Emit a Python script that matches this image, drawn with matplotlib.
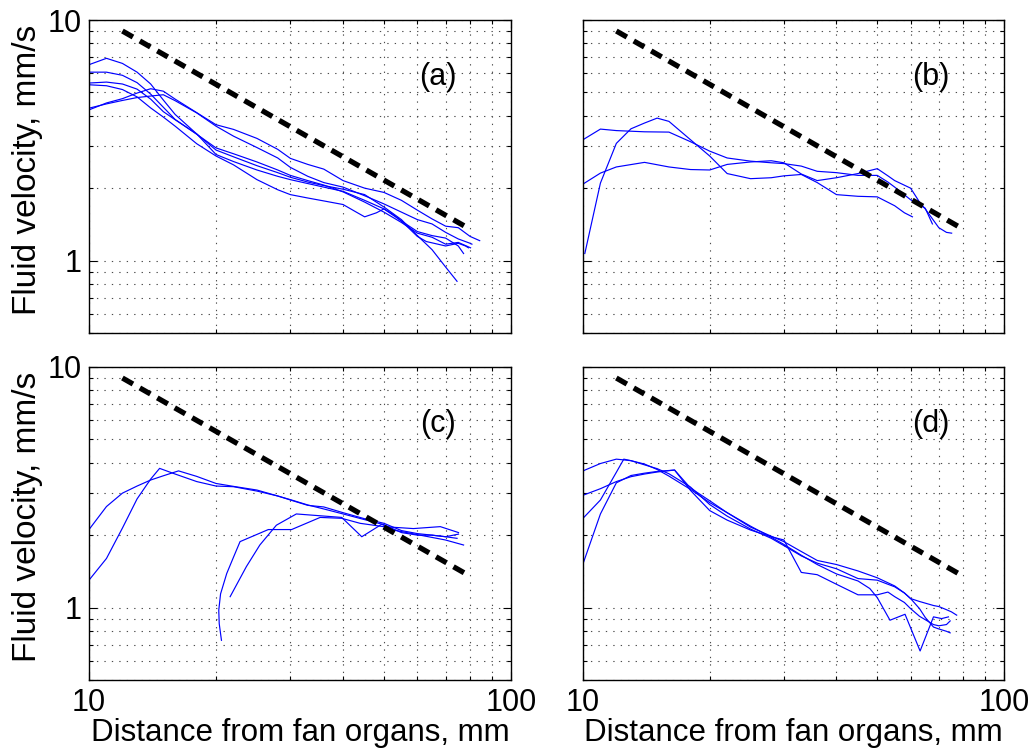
import matplotlib
matplotlib.use("Agg")
import matplotlib.pyplot as plt
from matplotlib.ticker import FixedLocator, NullFormatter, FixedFormatter, LogLocator

plt.rcParams['font.family'] = ['Liberation Sans', 'DejaVu Sans']

# ---------------- data ----------------
# reference slope line  y = k / x
ref_x = [12, 80]
ref_k = 108.0

# panel (a)
a1_x = [10, 11, 12, 13, 14, 15, 16, 18, 20, 22, 25, 28, 30, 33, 36, 40, 45, 50, 55, 60, 65, 70, 74.5]
a1_y = [6.52, 6.93, 6.6, 6.07, 5.42, 4.65, 4.05, 3.36, 2.88, 2.70, 2.48, 2.32, 2.22, 2.12, 2.05, 1.98, 1.88, 1.67, 1.48, 1.27, 1.11, 0.94, 0.82]
a2_x = [10, 11, 12, 13, 14, 15, 16, 18, 20, 22, 25, 28, 30, 33, 36, 40, 45, 50, 55, 60, 65, 70, 75, 80.2]
a2_y = [6.07, 6.07, 5.89, 5.49, 4.92, 4.34, 3.86, 3.35, 2.94, 2.78, 2.57, 2.38, 2.26, 2.15, 2.06, 1.93, 1.75, 1.59, 1.44, 1.30, 1.25, 1.17, 1.19, 1.13]
a3_x = [10, 11, 12, 13, 14, 15, 16, 18, 20, 22, 25, 28, 30, 33, 36, 40, 45, 50, 55, 60, 65, 70, 75, 77.2]
a3_y = [5.47, 5.52, 5.42, 5.16, 4.69, 4.16, 3.85, 3.36, 2.76, 2.58, 2.38, 2.24, 2.17, 2.09, 2.02, 1.94, 1.78, 1.64, 1.46, 1.32, 1.27, 1.24, 1.15, 1.07]
a4_x = [10, 11, 12, 13, 14, 15, 16, 18, 20, 22, 25, 28, 30, 33, 36, 40, 45, 50, 55, 60, 65, 70, 75, 80, 84.3]
a4_y = [4.23, 4.52, 4.71, 4.97, 5.18, 5.06, 4.69, 4.12, 3.67, 3.51, 3.22, 2.90, 2.66, 2.51, 2.40, 2.15, 2.00, 1.92, 1.78, 1.62, 1.49, 1.39, 1.37, 1.26, 1.21]
a5_x = [10, 11, 12, 13, 14, 15, 16, 18, 20, 22, 25, 28, 30, 33, 36, 40, 45, 50, 55, 60, 65, 70, 75, 80, 80.8]
a5_y = [4.30, 4.48, 4.63, 4.76, 4.83, 4.89, 4.62, 4.11, 3.62, 3.29, 2.95, 2.67, 2.44, 2.24, 2.11, 2.02, 1.86, 1.72, 1.59, 1.48, 1.42, 1.31, 1.23, 1.18, 1.17]
a6_x = [10, 11, 12, 13, 14, 15, 16, 18, 20, 22, 25, 28, 30, 33, 36, 40, 43, 45, 48, 50, 53, 55, 60, 63, 70, 75, 78, 79.3]
a6_y = [5.38, 5.33, 5.14, 4.79, 4.31, 3.95, 3.62, 3.06, 2.72, 2.50, 2.17, 1.97, 1.88, 1.82, 1.77, 1.71, 1.59, 1.52, 1.58, 1.64, 1.54, 1.46, 1.26, 1.20, 1.15, 1.18, 1.15, 1.13]

# panel (b)
b1_x = [10.1, 11, 12, 13, 14, 15, 16, 18, 20, 22, 25, 28, 30, 33, 36, 40, 45, 50, 55, 58, 60.6]
b1_y = [1.07, 2.10, 3.07, 3.53, 3.73, 3.91, 3.79, 3.18, 2.72, 2.30, 2.19, 2.21, 2.25, 2.28, 2.11, 1.88, 1.85, 1.84, 1.69, 1.58, 1.52]
b2_x = [10, 11, 12, 14, 16, 18, 20, 22, 25, 28, 30, 33, 36, 40, 45, 50, 53, 55, 60, 65, 67.6]
b2_y = [3.18, 3.52, 3.47, 3.43, 3.42, 3.12, 2.85, 2.67, 2.59, 2.55, 2.53, 2.47, 2.35, 2.32, 2.26, 2.26, 2.12, 2.02, 1.79, 1.65, 1.42]
b3_x = [10, 11, 12, 14, 16, 18, 20, 22, 25, 28, 30, 33, 36, 40, 45, 50, 53, 55, 60, 63, 65, 68, 70, 73, 75.1]
b3_y = [2.08, 2.31, 2.45, 2.56, 2.45, 2.39, 2.38, 2.51, 2.57, 2.60, 2.55, 2.29, 2.15, 2.21, 2.30, 2.41, 2.25, 2.15, 2.00, 1.75, 1.64, 1.47, 1.37, 1.31, 1.30]

# panel (c)
c1_x = [10, 11, 12, 13, 14, 14.7, 16, 18, 20, 22, 25, 28, 30, 33, 36, 40, 45, 50, 55, 60, 65, 70, 75.1]
c1_y = [1.30, 1.60, 2.14, 2.83, 3.42, 3.79, 3.59, 3.34, 3.20, 3.18, 3.05, 2.91, 2.81, 2.67, 2.57, 2.45, 2.32, 2.21, 2.05, 2.00, 2.00, 1.97, 2.02]
c2_x = [10, 11, 12, 13, 14, 15, 16.3, 18, 20, 22, 25, 28, 30, 33, 36, 40, 45, 50, 55, 60, 65, 70, 74.5]
c2_y = [2.11, 2.63, 2.99, 3.20, 3.39, 3.53, 3.70, 3.51, 3.28, 3.19, 3.08, 2.91, 2.80, 2.66, 2.62, 2.48, 2.34, 2.24, 2.09, 2.03, 2.00, 1.97, 1.94]
c3_x = [20.6, 20.35, 20.3, 20.5, 21.2, 22.0, 22.8, 26.6, 30.2, 35.3, 39.7, 43.9, 49.9, 58.7, 68.0, 75.1]
c3_y = [0.731, 0.858, 0.975, 1.14, 1.385, 1.62, 1.88, 2.11, 2.11, 2.37, 2.35, 2.24, 2.17, 2.13, 2.17, 2.05]
c4_x = [21.6, 23.6, 25.4, 27.8, 31.0, 39.7, 44.3, 49.4, 52.7, 60.9, 69.9, 77.2]
c4_y = [1.11, 1.48, 1.82, 2.20, 2.45, 2.37, 1.97, 2.22, 2.10, 2.00, 1.91, 1.82]

# panel (d)
d1_x = [10, 11, 12, 13, 14, 15, 16, 18, 20, 22, 25, 28, 30, 33, 36, 40, 45, 50, 55, 58, 60, 63, 68, 70, 73, 75, 77.2]
d1_y = [3.70, 3.97, 4.14, 4.08, 3.95, 3.75, 3.52, 3.10, 2.73, 2.48, 2.16, 1.98, 1.88, 1.71, 1.57, 1.51, 1.42, 1.33, 1.23, 1.15, 1.09, 1.06, 1.02, 1.01, 0.98, 0.96, 0.93]
d2_x = [10, 11, 12, 13, 14, 15, 16.5, 18, 20, 22, 25, 28, 30, 33, 36, 40, 45, 50, 53, 55, 58, 60, 63, 68, 70, 73, 74.5]
d2_y = [2.93, 3.12, 3.34, 3.50, 3.59, 3.66, 3.73, 3.07, 2.53, 2.31, 2.10, 1.97, 1.91, 1.40, 1.37, 1.25, 1.13, 1.13, 1.16, 1.11, 1.05, 0.99, 0.92, 0.85, 0.84, 0.85, 0.88]
d3_x = [10, 11, 12, 12.5, 13, 14, 15, 16, 18, 20, 22, 25, 28, 30, 33, 36, 40, 45, 50, 53, 55, 58, 60, 63, 65, 68, 70, 73, 74.5]
d3_y = [2.35, 2.80, 3.65, 4.14, 4.08, 3.92, 3.78, 3.60, 3.17, 2.68, 2.40, 2.12, 1.94, 1.81, 1.64, 1.53, 1.45, 1.32, 1.30, 1.25, 1.22, 1.15, 1.09, 0.99, 0.91, 0.83, 0.815, 0.797, 0.785]
d4_x = [10, 11, 12, 13, 14, 15, 16.5, 18, 20, 22, 25, 28, 30, 33, 36, 40, 45, 48, 50, 53.6, 58.2, 63.2, 68.0, 71.1, 73.8]
d4_y = [1.52, 2.45, 3.30, 3.54, 3.62, 3.68, 3.73, 3.14, 2.78, 2.48, 2.18, 1.96, 1.83, 1.65, 1.51, 1.38, 1.29, 1.20, 1.10, 0.886, 0.938, 0.66, 0.915, 0.90, 0.915]

panels = [
    ("(a)", [(a1_x, a1_y), (a2_x, a2_y), (a3_x, a3_y), (a4_x, a4_y), (a5_x, a5_y), (a6_x, a6_y)]),
    ("(b)", [(b1_x, b1_y), (b2_x, b2_y), (b3_x, b3_y)]),
    ("(c)", [(c1_x, c1_y), (c2_x, c2_y), (c3_x, c3_y), (c4_x, c4_y)]),
    ("(d)", [(d1_x, d1_y), (d2_x, d2_y), (d3_x, d3_y), (d4_x, d4_y)]),
]

x_ticks = [10, 100]
x_ticklabels = ["10", "100"]
y_ticks = [1, 10]
y_ticklabels = ["1", "10"]
xlabel = "Distance from fan organs, mm"
ylabel = "Fluid velocity, mm/s"

# ---------------- figure ----------------
W, H = 1036, 755
fig = plt.figure(figsize=(W / 100, H / 100), dpi=100)

boxes = [(89, 20, 511, 333), (583, 20, 1004, 333),
         (89, 367, 511, 680), (583, 367, 1004, 680)]

FS = 22
for i, ((label, curves), (l, t, r, b)) in enumerate(zip(panels, boxes)):
    ax = fig.add_axes([l / W, (H - b) / H, (r - l) / W, (b - t) / H])
    ax.set_xscale('log')
    ax.set_yscale('log')
    ax.set_xlim(10, 100)
    ax.set_ylim(0.5, 10)

    for cx, cy in curves:
        ax.plot(cx, cy, color='#0000ff', lw=0.85)
    rx = ref_x
    ry = [ref_k / v for v in rx]
    ax.plot(rx, ry, color='black', lw=3.8, dashes=(2.3, 1.5), solid_capstyle='butt',
            dash_capstyle='butt')

    ax.text(0.827, 0.818, label, transform=ax.transAxes, ha='center', va='center',
            fontsize=FS)

    ax.xaxis.set_major_locator(FixedLocator(x_ticks))
    ax.yaxis.set_major_locator(FixedLocator(y_ticks))
    ax.xaxis.set_minor_locator(LogLocator(base=10, subs=range(2, 10)))
    ax.yaxis.set_minor_locator(LogLocator(base=10, subs=range(2, 10)))
    ax.xaxis.set_minor_formatter(NullFormatter())
    ax.yaxis.set_minor_formatter(NullFormatter())

    if i >= 2:
        ax.xaxis.set_major_formatter(FixedFormatter(x_ticklabels))
        ax.set_xlabel(xlabel, fontsize=22.5)
        ax.xaxis.set_label_coords(0.5, -0.122)
    else:
        ax.xaxis.set_major_formatter(NullFormatter())
    if i % 2 == 0:
        ax.yaxis.set_major_formatter(FixedFormatter(y_ticklabels))
        ax.set_ylabel(ylabel, fontsize=24)
        ax.yaxis.set_label_coords(-0.108, 0.52)
    else:
        ax.yaxis.set_major_formatter(NullFormatter())

    ax.tick_params(which='both', direction='in', top=True, right=True,
                   labelsize=FS, width=0.8)
    ax.tick_params(which='major', length=6)
    ax.tick_params(axis='x', which='major', pad=6)
    ax.tick_params(axis='y', which='major', pad=5)
    ax.tick_params(which='minor', length=3)
    ax.grid(True, which='both', linestyle=(0, (1.2, 5.5)), color='0.3', lw=0.8)
    for s in ax.spines.values():
        s.set_linewidth(1.0)
        s.set_color('black')

fig.savefig("out.png", dpi=100)
